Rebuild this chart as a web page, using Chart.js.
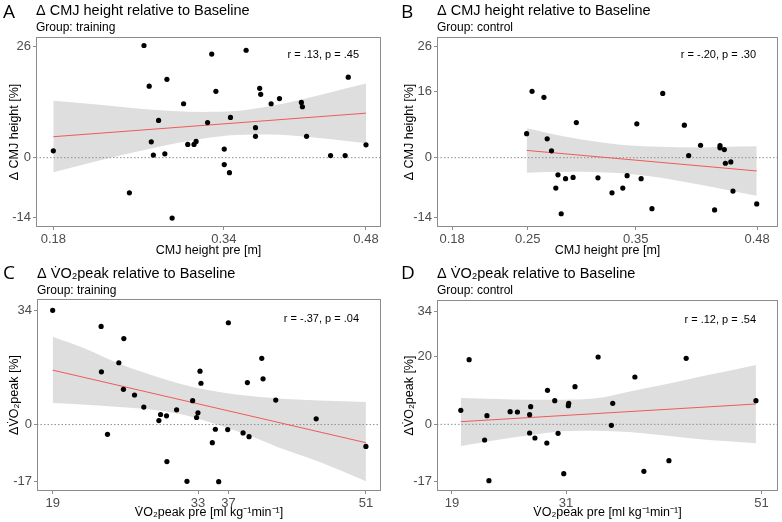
<!DOCTYPE html>
<html>
<head>
<meta charset="utf-8">
<title>Δ CMJ height / Δ VO2peak relative to Baseline</title>
<script src="https://cdn.jsdelivr.net/npm/chart.js@4/dist/chart.umd.min.js"></script>
<style>
  body { margin:0; background:#fff; }
  #wrap { position:relative; width:782px; height:522px; }
  #wrap canvas { position:absolute; }
</style>
</head>
<body>
<div id="wrap">
  <canvas id="cA" width="391" height="261" style="left:0;top:0"></canvas>
  <canvas id="cB" width="391" height="261" style="left:391px;top:0"></canvas>
  <canvas id="cC" width="391" height="261" style="left:0;top:261px"></canvas>
  <canvas id="cD" width="391" height="261" style="left:391px;top:261px"></canvas>
</div>
<script>
// A: CMJ, training group
const aPreX  = [0.180,0.253,0.267,0.272,0.274,0.276,0.281,0.287,0.289,0.294,0.305,0.309,0.315,0.317,0.328,0.332,0.336,0.344,0.344,0.349,0.350,0.365,0.374,0.374,0.378,0.379,0.389,0.397,0.418,0.419,0.423,0.446,0.460,0.463,0.480]
const aDelta = [1.6,-8.2,26.2,16.7,3.7,0.6,8.7,0.9,18.3,-14.1,12.6,3.1,3.1,3.8,8.2,24.2,15.5,2.0,-1.6,-3.5,9.4,25.1,7.0,5.0,16.2,14.8,12.6,13.8,12.9,11.9,5.0,0.5,0.5,18.8,3.0]
const aFitX  = [0.18, 0.48]
const aFitY  = [4.9, 10.4]
const aBandX  = [0.18,0.227,0.275,0.323,0.355,0.387,0.435,0.48]
const aBandHi = [13.3,12.3,11.2,10.7,10.9,12.0,14.6,17.3]
const aBandLo = [-3.4,-0.5,2.2,4.4,5.3,5.4,4.6,3.4]
const aTickX = [0.18, 0.3437, 0.48]
const aTickXLabels = ['0.18','0.34','0.48']
const aTickY = [-14, 0, 26]
const aTickYLabels = ['-14','0','26']

// B: CMJ, control group
const bPreX  = [0.249,0.254,0.265,0.268,0.272,0.276,0.278,0.281,0.285,0.292,0.295,0.315,0.328,0.338,0.342,0.351,0.355,0.365,0.375,0.395,0.399,0.410,0.423,0.428,0.428,0.432,0.433,0.438,0.440,0.462]
const bDelta = [5.6,15.5,14.1,4.4,1.6,-7.1,-4.0,-13.1,-4.9,-4.6,8.2,-4.7,-8.2,-7.1,-4.2,7.9,-4.9,-11.9,15.0,7.6,0.5,2.9,-12.2,2.8,2.3,1.9,-1.3,-1.0,-7.8,-10.8]
const bFitX  = [0.249, 0.462]
const bFitY  = [1.7, -3.1]
const bBandX  = [0.249,0.288,0.334,0.365,0.411,0.442,0.462]
const bBandHi = [6.9,4.8,3.1,2.6,2.4,2.6,2.7]
const bBandLo = [-3.5,-3.3,-3.6,-4.4,-6.4,-7.9,-8.9]
const bTickX = [0.18, 0.25, 0.35, 0.4624]
const bTickXLabels = ['0.18','0.25','0.35','0.48']
const bTickY = [-14, 0, 15.4, 26]
const bTickYLabels = ['-14','0','16','26']

// C: VO2peak, training group
const cPreX  = [19.0,23.95,23.98,24.6,25.76,26.23,26.27,27.36,28.31,29.85,30.02,30.63,30.67,31.66,32.72,33.3,33.7,33.84,34.05,34.15,35.31,35.62,35.96,36.95,36.88,38.45,38.89,39.06,40.36,40.49,41.79,45.92,51.0]
const cDelta = [34.0,29.2,15.7,-2.9,18.4,10.5,25.6,8.8,5.2,1.2,3.0,2.6,-11.0,4.4,-16.9,7.1,2.1,3.5,15.9,12.3,-5.4,-1.4,-17.0,30.3,-1.5,-2.5,12.5,-3.6,19.7,13.6,7.3,1.7,-6.5]
const cFitX  = [19, 51]
const cFitY  = [16.2, -5.4]
const cBandX  = [19,22.34,25.76,29.17,32.58,35.99,39.4,42.81,46.23,51]
const cBandHi = [26.1,22.6,18.2,14.7,11.7,9.7,8.4,7.6,7.2,6.7]
const cBandLo = [6.4,5.9,5.2,4.4,2.8,-0.2,-3.6,-7.6,-11.1,-16.9]
const cTickX = [19, 33.85, 36.95, 51]
const cTickXLabels = ['19','33','37','51']
const cTickY = [-17, 0, 34]
const cTickYLabels = ['-17','0','34']

// D: VO2peak, control group
const dPreX  = [19.92,20.78,22.38,22.62,22.83,25.02,25.77,27.03,27.03,27.14,27.58,28.81,28.88,29.63,29.97,30.56,31.03,31.07,31.72,34.11,35.48,35.62,37.91,38.84,41.43,43.21,50.42]
const dDelta = [4.2,19.4,-4.7,2.6,-16.9,3.8,3.7,-2.6,2.9,5.3,-4.1,-5.6,10.2,7.1,-2.7,-14.8,5.6,6.3,11.3,20.2,-0.3,6.3,14.2,-14.1,-10.9,19.8,7.1]
const dFitX  = [19.92, 50.42]
const dFitY  = [0.8, 6.1]
const dBandX  = [19.92,23.62,27.03,30.45,33.87,37.29,40.71,44.13,47.55,50.42]
const dBandHi = [7.9,7.6,7.4,7.4,7.8,9.8,11.8,14.0,16.0,17.8]
const dBandLo = [-6.5,-4.7,-3.3,-2.1,-1.9,-2.3,-3.3,-4.3,-5.1,-5.7]
const dTickX = [19, 30.8, 51]
const dTickXLabels = ['19','31','51']
const dTickY = [-17, 0, 20.3, 34]
const dTickYLabels = ['-17','0','20','34']

const FONT = '"Liberation Sans", Arial, sans-serif'
Chart.defaults.font.family = FONT

function pts(xs, ys){ return xs.map((x,i)=>({x, y: ys[i]})) }

// panel border, letter, title, subtitle, r/p note
const panelDecor = {
  id: 'panelDecor',
  afterDatasetsDraw(chart, args, o){
    const {ctx, chartArea:a} = chart
    ctx.save()
    ctx.strokeStyle = '#8c8c8c'; ctx.lineWidth = 1
    ctx.strokeRect(a.left + 0.5, a.top + 0.5, a.right - a.left - 1, a.bottom - a.top - 1)
    ctx.fillStyle = '#000'
    ctx.textBaseline = 'alphabetic'
    ctx.textAlign = 'left'
    ctx.font = '19px "Open Sans", "Noto Sans", sans-serif'
    ctx.fillText(o.letter, o.letterX, 18)
    ctx.font = '14.5px ' + FONT
    ctx.fillText(o.title, a.left, o.titleY)
    ctx.font = '12px ' + FONT
    ctx.fillText(o.subtitle, a.left, o.titleY + 16)
    ctx.textAlign = 'right'
    ctx.font = '11px ' + FONT
    ctx.fillText(o.note, a.right - 22, a.top + o.noteDy)
    ctx.restore()
  }
}

function axis(min, max, vals, labels, title, size, tpad){
  return {
    type: 'linear', min, max,
    afterBuildTicks: s => { s.ticks = vals.map(v => ({value: v})) },
    afterFit: s => { if(s.isHorizontal()) s.height = size; else s.width = size },
    ticks: { callback: (v, i) => labels[i], color: '#4d4d4d', font: {size: 13}, padding: 2, autoSkip: false, maxRotation: 0, minRotation: 0 },
    grid: { drawOnChartArea: false, drawTicks: true, tickLength: 3, color: '#8c8c8c' },
    border: { display: false },
    title: { display: true, text: title, color: '#000', font: {size: 12.5}, padding: tpad }
  }
}

function makePanel(id, p){
  new Chart(document.getElementById(id), {
    type: 'scatter',
    data: { datasets: [
      { data: pts(p.x, p.y), backgroundColor: '#000', borderColor: '#000', borderWidth: 0, pointRadius: 2.6 },
      { type: 'line', data: pts(p.fitX, p.fitY), borderColor: '#f05a5a', borderWidth: 1, pointRadius: 0, fill: false },
      { type: 'line', data: pts([p.xMin, p.xMax], [0, 0]), borderColor: '#8f8f8f', borderWidth: 1, borderDash: [1.5, 2], pointRadius: 0, fill: false },
      { type: 'line', data: pts(p.bandX, p.bandHi), borderColor: 'rgba(0,0,0,0)', borderWidth: 0, pointRadius: 0, backgroundColor: '#dedede', fill: '+1', cubicInterpolationMode: 'monotone' },
      { type: 'line', data: pts(p.bandX, p.bandLo), borderColor: 'rgba(0,0,0,0)', borderWidth: 0, pointRadius: 0, fill: false, cubicInterpolationMode: 'monotone' }
    ]},
    options: {
      responsive: false, animation: false, events: [],
      layout: { padding: { left: p.padL, top: p.top, right: 391 - p.right, bottom: p.padB } },
      plugins: {
        legend: { display: false }, tooltip: { enabled: false },
        panelDecor: { letter: p.letter, letterX: p.letterX, title: p.title, subtitle: p.subtitle, titleY: p.titleY, note: p.note, noteDy: p.noteDy }
      },
      scales: {
        x: axis(p.xMin, p.xMax, p.tickX, p.tickXLabels, p.xTitle, 261 - p.padB - p.bottom, {top: 1, bottom: 0.5}),
        y: axis(p.yMin, p.yMax, p.tickY, p.tickYLabels, p.yTitle, p.left - p.padL, {top: 4, bottom: 0})
      }
    },
    plugins: [panelDecor]
  })
}

makePanel('cA', {
  x: aPreX, y: aDelta, fitX: aFitX, fitY: aFitY, bandX: aBandX, bandHi: aBandHi, bandLo: aBandLo,
  tickX: aTickX, tickXLabels: aTickXLabels, tickY: aTickY, tickYLabels: aTickYLabels,
  xMin: 0.1634, xMax: 0.4944, yMin: -16.19, yMax: 28.19,
  left: 36, top: 37, right: 381, bottom: 227, padL: 3, padB: 2,
  letter: 'A', letterX: 3, titleY: 15,
  title: 'Δ CMJ height relative to Baseline', subtitle: 'Group: training',
  xTitle: 'CMJ height pre [m]', yTitle: 'Δ CMJ height [%]', note: 'r = .13, p = .45', noteDy: 21
})
makePanel('cB', {
  x: bPreX, y: bDelta, fitX: bFitX, fitY: bFitY, bandX: bBandX, bandHi: bBandHi, bandLo: bBandLo,
  tickX: bTickX, tickXLabels: bTickXLabels, tickY: bTickY, tickYLabels: bTickYLabels,
  xMin: 0.166, xMax: 0.4817, yMin: -16.19, yMax: 28.19,
  left: 46, top: 37, right: 389, bottom: 227, padL: 7, padB: 2,
  letter: 'B', letterX: 10, titleY: 15,
  title: 'Δ CMJ height relative to Baseline', subtitle: 'Group: control',
  xTitle: 'CMJ height pre [m]', yTitle: 'Δ CMJ height [%]', note: 'r = -.20, p = .30', noteDy: 21
})
makePanel('cC', {
  x: cPreX, y: cDelta, fitX: cFitX, fitY: cFitY, bandX: cBandX, bandHi: cBandHi, bandLo: cBandLo,
  tickX: cTickX, tickXLabels: cTickXLabels, tickY: cTickY, tickYLabels: cTickYLabels,
  xMin: 17.4, xMax: 52.54, yMin: -19.77, yMax: 37.37,
  left: 37, top: 38, right: 381, bottom: 230, padL: 3, padB: 1,
  letter: 'C', letterX: 3, titleY: 17,
  title: 'Δ V\u0307O\u2082peak relative to Baseline', subtitle: 'Group: training',
  xTitle: 'V\u0307O\u2082peak pre [ml kg\u207B\u00B9min\u207B\u00B9]', yTitle: 'ΔV\u0307O\u2082peak [%]', note: 'r = -.37, p = .04', noteDy: 23
})
makePanel('cD', {
  x: dPreX, y: dDelta, fitX: dFitX, fitY: dFitY, bandX: dBandX, bandHi: dBandHi, bandLo: dBandLo,
  tickX: dTickX, tickXLabels: dTickXLabels, tickY: dTickY, tickYLabels: dTickYLabels,
  xMin: 17.46, xMax: 52.7, yMin: -20.0, yMax: 37.3,
  left: 46, top: 39, right: 389, bottom: 230, padL: 7, padB: 1,
  letter: 'D', letterX: 10, titleY: 17,
  title: 'Δ V\u0307O\u2082peak relative to Baseline', subtitle: 'Group: control',
  xTitle: 'V\u0307O\u2082peak pre [ml kg\u207B\u00B9min\u207B\u00B9]', yTitle: 'ΔV\u0307O\u2082peak [%]', note: 'r = .12, p = .54', noteDy: 23
})
</script>
</body>
</html>
